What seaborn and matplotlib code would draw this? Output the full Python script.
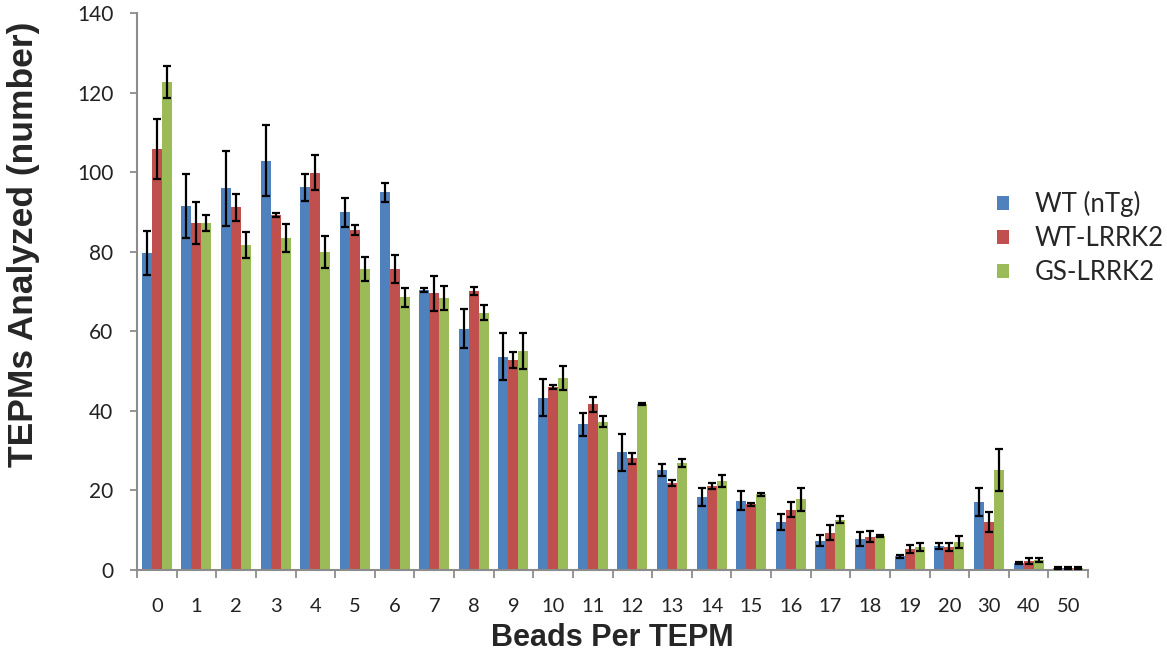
import numpy as np
import pandas as pd
import matplotlib
matplotlib.use("Agg")
import matplotlib.pyplot as plt
import seaborn as sns
from matplotlib.ticker import MultipleLocator, FixedLocator

categories = ["0", "1", "2", "3", "4", "5", "6", "7", "8", "9", "10", "11", "12",
              "13", "14", "15", "16", "17", "18", "19", "20", "30", "40", "50"]
series_names = ["WT (nTg)", "WT-LRRK2", "GS-LRRK2"]

wt_ntg = [79.6, 91.5, 95.9, 102.9, 96.2, 89.9, 94.9, 70.5, 60.7, 53.6, 43.3, 36.6,
          29.6, 25.1, 18.4, 17.4, 12.1, 7.4, 7.8, 3.4, 6.0, 17.1, 1.8, 0.5]
wt_lrrk2 = [105.9, 87.3, 91.2, 89.2, 99.9, 85.4, 75.7, 69.5, 70.2, 52.8, 46.1, 41.6,
            28.1, 21.9, 21.1, 16.5, 15.2, 9.4, 8.4, 5.2, 5.9, 12.1, 2.3, 0.5]
gs_lrrk2 = [122.6, 87.3, 81.7, 83.4, 79.9, 75.7, 68.5, 68.4, 64.7, 55.0, 48.3, 37.3,
            41.7, 26.8, 22.4, 19.0, 17.8, 12.6, 8.5, 5.7, 7.1, 25.1, 2.5, 0.5]

wt_ntg_err = [5.5, 8.1, 9.4, 9.0, 3.4, 3.7, 2.4, 0.5, 4.8, 5.9, 4.6, 2.9,
              4.7, 1.5, 2.2, 2.4, 2.1, 1.3, 1.7, 0.4, 0.7, 3.5, 0.3, 0.2]
wt_lrrk2_err = [7.5, 5.3, 3.4, 0.5, 4.5, 1.2, 3.5, 4.5, 1.0, 2.1, 0.5, 1.8,
                1.4, 0.8, 0.8, 0.3, 2.0, 1.8, 1.4, 1.0, 1.0, 2.6, 0.7, 0.2]
gs_lrrk2_err = [4.0, 2.0, 3.3, 3.5, 4.0, 3.0, 2.5, 3.0, 1.9, 4.5, 3.1, 1.3,
                0.3, 1.0, 1.5, 0.3, 2.9, 0.9, 0.3, 1.0, 1.5, 5.2, 0.6, 0.2]

colors = ["#4F81BD", "#C0504D", "#9BBB59"]

values = [wt_ntg, wt_lrrk2, gs_lrrk2]
errors = [wt_ntg_err, wt_lrrk2_err, gs_lrrk2_err]

df = pd.DataFrame({
    "Beads": np.tile(categories, 3),
    "Group": np.repeat(series_names, len(categories)),
    "Count": np.concatenate(values),
})

sns.set_style("white")
plt.rcParams["font.family"] = ["Lato", "DejaVu Sans"]

fig = plt.figure(figsize=(11.67, 6.56), dpi=100)
ax = fig.add_axes([137 / 1167, 1 - 570 / 656, (1088 - 137) / 1167, (570 - 13) / 656])

sns.barplot(data=df, x="Beads", y="Count", hue="Group", order=categories,
            hue_order=series_names, palette=colors, errorbar=None,
            width=0.76, linewidth=0, saturation=1, ax=ax)

for cont, err in zip(ax.containers, errors):
    xs = [p.get_x() + p.get_width() / 2 for p in cont.patches]
    hs = [p.get_height() for p in cont.patches]
    ax.errorbar(xs, hs, yerr=err, fmt="none", ecolor="black", elinewidth=1.6,
                capsize=3.0, capthick=1.6, zorder=5)

ax.set_xlim(-0.5, len(categories) - 0.5)
ax.set_ylim(0, 140)
ax.yaxis.set_major_locator(MultipleLocator(20))
ax.xaxis.set_minor_locator(FixedLocator(np.arange(-0.5, len(categories), 1.0)))

ax.tick_params(axis="x", which="major", length=0, pad=20, labelsize=14.5, labelcolor="#222222")
ax.tick_params(axis="x", which="minor", length=6, width=1.3, color="#8c8c8c", direction="out", bottom=True)
ax.tick_params(axis="y", which="major", length=5, width=1.3, color="#8c8c8c", direction="out",
               left=True, pad=12, labelsize=15, labelcolor="#222222")

for s in ["top", "right"]:
    ax.spines[s].set_visible(False)
for s in ["left", "bottom"]:
    ax.spines[s].set_color("#8c8c8c")
    ax.spines[s].set_linewidth(1.5)

ax.set_xlabel("Beads Per TEPM", fontsize=22, fontweight="bold",
              family=["Liberation Sans", "DejaVu Sans"], labelpad=6)
ax.set_ylabel("TEPMs Analyzed (number)", fontsize=25.5, fontweight="bold",
              family=["Liberation Sans", "DejaVu Sans"])
ax.yaxis.set_label_coords((40 - 137) / 951, (570 - 244) / 557)

handles, labels = ax.get_legend_handles_labels()
ax.legend(handles, labels, loc="center left", bbox_to_anchor=(997 / 1167, 1 - 238 / 656),
          bbox_transform=fig.transFigure, frameon=False, fontsize=18.5,
          handlelength=0.47, handleheight=0.47, handletextpad=1.0, labelspacing=0.34,
          borderpad=0, borderaxespad=0)

fig.savefig("out.png", dpi=100)
